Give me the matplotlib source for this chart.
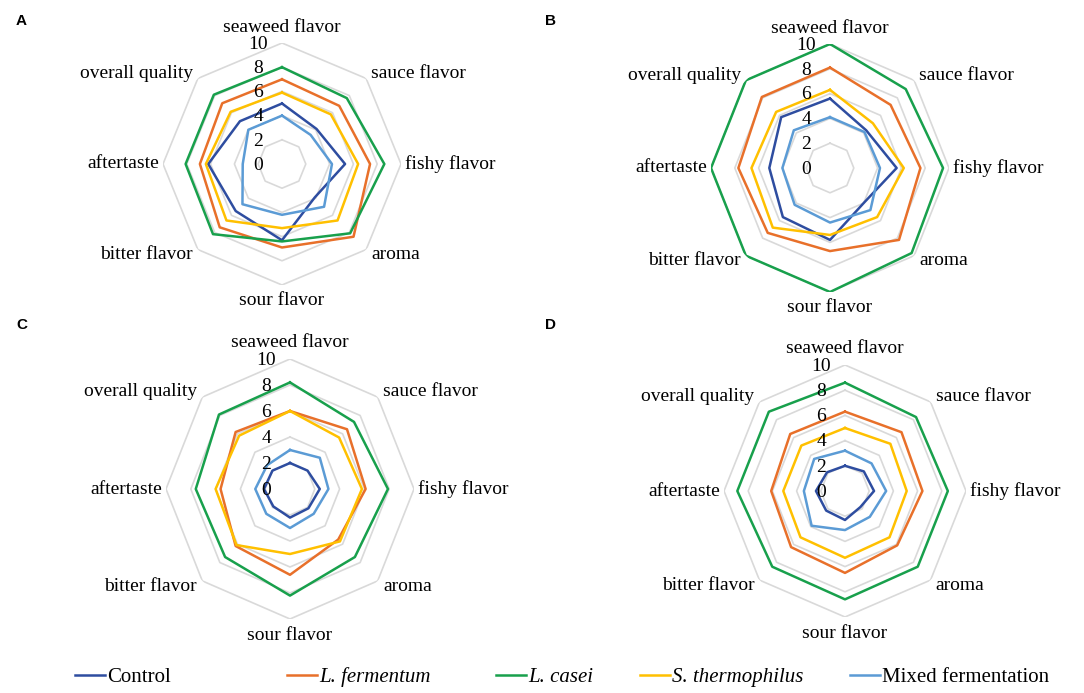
import numpy as np
import matplotlib
matplotlib.use("Agg")
import matplotlib.pyplot as plt

# attributes, clockwise from the top
atributos = ["seaweed flavor", "sauce flavor", "fishy flavor", "aroma",
             "sour flavor", "bitter flavor", "aftertaste", "overall quality"]
grupos = ["Control", "L. fermentum", "L. casei", "S. thermophilus", "Mixed fermentation"]
colores = ["#2E4DA0", "#E8702A", "#18A04C", "#FFC000", "#5B9BD5"]
anillos = [2, 4, 6, 8, 10]
etiquetas_r = [0, 2, 4, 6, 8, 10]

# panel A
control_A = [5.0, 4.1, 5.3, 3.9, 6.3, 5.5, 6.2, 5.0]
fermentum_A = [7.0, 6.8, 7.4, 8.5, 6.9, 7.4, 6.9, 7.1]
casei_A = [8.0, 7.7, 8.6, 8.1, 6.4, 8.2, 8.1, 8.1]
thermo_A = [5.9, 5.8, 6.4, 6.6, 5.3, 6.6, 6.4, 6.1]
mixed_A = [4.0, 3.4, 4.2, 5.0, 4.2, 4.7, 3.3, 4.0]

# panel B
control_B = [5.6, 4.3, 5.6, 4.0, 5.8, 5.6, 5.1, 5.8]
fermentum_B = [8.1, 7.2, 7.6, 8.2, 6.7, 7.4, 7.7, 8.1]
casei_B = [10.0, 9.0, 9.5, 9.7, 10.0, 10.0, 10.0, 10.0]
thermo_B = [6.3, 5.1, 6.2, 5.6, 5.4, 6.8, 6.6, 6.4]
mixed_B = [4.1, 4.1, 4.2, 4.8, 4.4, 4.2, 4.0, 4.3]

# panel C
control_C = [2.0, 2.0, 2.4, 2.1, 2.2, 1.9, 2.1, 2.0]
fermentum_C = [6.0, 6.5, 6.1, 5.5, 6.6, 6.2, 5.6, 6.2]
casei_C = [8.2, 7.3, 7.9, 7.4, 8.2, 7.4, 7.6, 8.1]
thermo_C = [6.0, 5.6, 5.8, 5.7, 5.0, 6.1, 6.0, 5.8]
mixed_C = [3.0, 3.4, 3.1, 2.7, 3.0, 2.7, 2.8, 2.6]

# panel D
control_D = [2.0, 2.2, 2.4, 1.8, 2.3, 2.2, 2.4, 2.1]
fermentum_D = [6.3, 6.6, 6.4, 6.1, 6.5, 6.3, 6.1, 6.4]
casei_D = [8.6, 8.3, 8.5, 8.5, 8.6, 8.5, 8.9, 8.9]
thermo_D = [5.0, 5.3, 5.1, 5.2, 5.3, 5.2, 5.1, 5.1]
mixed_D = [3.2, 3.1, 3.4, 2.9, 3.1, 3.9, 3.4, 3.6]

# (centre x, centre y, half width, half height) in pixels
paneles = [
    ("A", [control_A, fermentum_A, casei_A, thermo_A, mixed_A], (282, 164, 119, 121)),
    ("B", [control_B, fermentum_B, casei_B, thermo_B, mixed_B], (830, 168, 119, 124)),
    ("C", [control_C, fermentum_C, casei_C, thermo_C, mixed_C], (290, 489, 124, 130)),
    ("D", [control_D, fermentum_D, casei_D, thermo_D, mixed_D], (845, 491, 121, 126)),
]
letras_pos = {"A": (16, 21), "B": (545, 21), "C": (16, 325), "D": (545, 325)}

W, H = 1084, 693
fig = plt.figure(figsize=(W / 100, H / 100), dpi=100)
serif = "Liberation Serif"

angulos = np.linspace(0, 2 * np.pi, len(atributos), endpoint=False)
ang_c = np.append(angulos, angulos[0])

lineas = []
for letra, series, (cx, cy, rx, ry) in paneles:
    ax = fig.add_axes([(cx - rx) / W, (H - cy - ry) / H, 2 * rx / W, 2 * ry / H],
                      projection="polar")
    ax.set_aspect("auto")
    ax.set_theta_zero_location("N")
    ax.set_theta_direction(-1)
    ax.set_ylim(0, 10)
    ax.grid(False)
    ax.spines["polar"].set_visible(False)
    ax.set_xticks([])
    ax.set_yticks([])
    ax.patch.set_alpha(0)

    # octagon rings
    for r in anillos:
        ax.plot(ang_c, [r] * len(ang_c), color="#D9D9D9", lw=1.2, zorder=1)

    for vals, col, nom in zip(series, colores, grupos):
        v = np.append(vals, vals[0])
        ln, = ax.plot(ang_c, v, color=col, lw=1.8, zorder=3, label=nom)
        if letra == "A":
            lineas.append(ln)

    # radial labels
    for r in etiquetas_r:
        ax.annotate(str(r), xy=(0, r), xytext=(-17, -1), textcoords="offset points",
                    ha="center", va="center", fontsize=14, family=serif,
                    annotation_clip=False, zorder=4)

    # attribute labels
    for a, nombre in zip(angulos, atributos):
        s, c = np.sin(a), np.cos(a)
        if abs(s) < 0.01:
            ha = "center"
            va = "bottom" if c > 0 else "top"
            rr = 10.6
        else:
            ha = "left" if s > 0 else "right"
            va = "center"
            rr = 10.3 if abs(c) < 0.01 else 10.6
        ax.text(a, rr, nombre, ha=ha, va=va, fontsize=14, family=serif, clip_on=False)

    lx, ly = letras_pos[letra]
    fig.text(lx / W, 1 - ly / H, letra, fontsize=11, fontweight="bold",
             family="Liberation Sans", va="center")

# legend: one entry per block, like the original layout
inicio_x = [75, 287, 496, 640, 850]
for ln, nom, x0 in zip(lineas, grupos, inicio_x):
    leg = fig.legend([ln], [nom], loc="center left", bbox_to_anchor=(x0 / W, 1 - 677 / H),
                     frameon=False, handlelength=1.45, handletextpad=0.1,
                     borderpad=0, borderaxespad=0, prop={"family": serif, "size": 15})
    if nom not in ("Control", "Mixed fermentation"):
        leg.get_texts()[0].set_fontstyle("italic")

fig.savefig("out.png", dpi=100)
